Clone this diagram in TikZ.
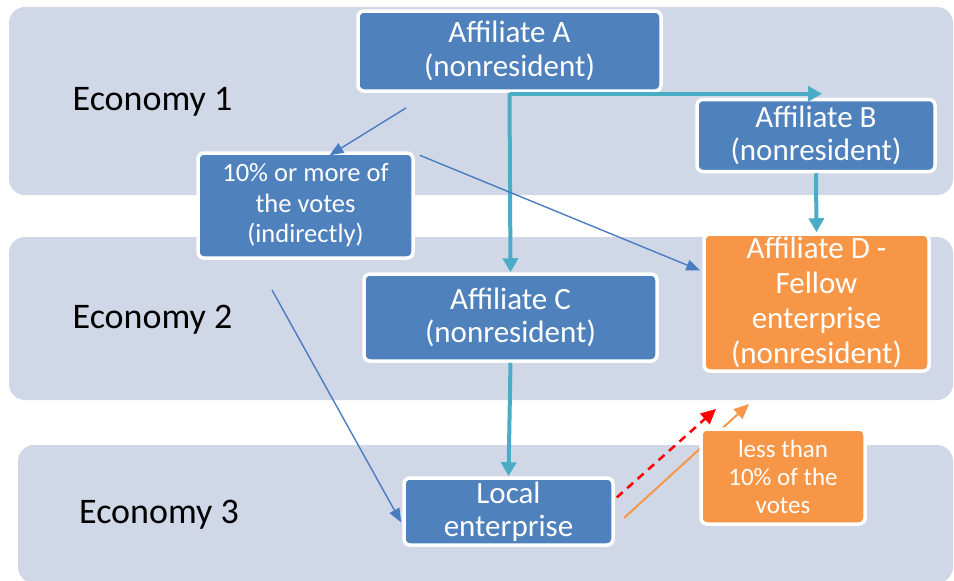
\documentclass[tikz,border=0pt]{standalone}
\usepackage{fontspec}
\setmainfont{Carlito}
\usetikzlibrary{arrows.meta}
\definecolor{bandc}{HTML}{D0D8E8}
\definecolor{boxblue}{HTML}{4F81BD}
\definecolor{boxorange}{HTML}{F79646}
\definecolor{tealc}{HTML}{4BACC6}
\definecolor{thinblue}{HTML}{4A7CC0}
\tikzset{
  band/.style={fill=bandc, rounded corners=16pt},
  econ/.style={text=black, font=\fontsize{36}{40}\selectfont},
  bbox/.style={draw=white, line width=3.5pt, fill=boxblue, rounded corners=6pt,
    text=white, align=center, inner sep=0pt, font=\fontsize{31}{33.5}\selectfont},
  obox/.style={bbox, fill=boxorange},
  tealar/.style={draw=tealc, line width=4pt, -{Triangle[length=14pt,width=15pt]}},
  thinar/.style={draw=thinblue, line width=1.4pt, -{Triangle[length=14pt,width=11pt]}},
  redar/.style={draw=red, line width=2.5pt, dash pattern=on 8pt off 6pt, -{Triangle[length=15pt,width=14pt]}},
  orar/.style={draw=boxorange, line width=2pt, -{Triangle[length=15pt,width=13pt]}}
}
\begin{document}
\begin{tikzpicture}[x=1pt,y=-1pt]
\useasboundingbox (0,0) rectangle (954,581);
% economy bands
\fill[band] (9,7) rectangle (953,195);
\fill[band] (9,237) rectangle (953,400);
\fill[band] (18,445) rectangle (953,583);
\node[econ] (e1) at (152.5,102) {Economy 1};
\node[econ] (e2) at (152.5,320) {Economy 2};
\node[econ] (e3) at (159,515) {Economy 3};
% boxes
\node[bbox, minimum width=303pt, minimum height=80pt] (A) at (509.5,51) {Affiliate A\\(nonresident)};
\node[bbox, minimum width=238pt, minimum height=72pt] (B) at (816,135.5) {Affiliate B\\(nonresident)};
\node[bbox, minimum width=215pt, minimum height=105pt, font=\fontsize{26.5}{30.5}\selectfont] (ten) at (305.5,205.5) {10\% or more of\\the votes\\(indirectly)};
\node[bbox, minimum width=293pt, minimum height=87pt] (C) at (510.5,317.5) {Affiliate C\\(nonresident)};
\node[obox, minimum width=225pt, minimum height=137pt, font=\fontsize{31}{34.8}\selectfont] (D) at (816.5,302.5) {Affiliate D -\\Fellow\\enterprise\\(nonresident)};
\node[bbox, minimum width=209pt, minimum height=67pt] (L) at (508.5,511.5) {Local\\enterprise};
% connectors
\draw[tealar] (A.south) -- (C.north);
\draw[tealar] (A.south) |- ([xshift=6pt,yshift=4pt]B.north);
\draw[tealar] (B.south) -- (D.north);
\draw[tealar] (C.south) -- (L.north);
\coordinate (s1) at (406,108);
\draw[thinar] (s1) -- ([xshift=24pt,yshift=-4pt]ten.north);
\draw[thinar] ([xshift=5pt,yshift=-4pt]ten.north east) -- ([yshift=32pt,xshift=-2pt]D.west);
\coordinate (s2) at (272,290);
\draw[thinar] (s2) -- ([yshift=-11pt,xshift=-1pt]L.west);
\coordinate (r1) at (716,409);
\draw[redar] ([yshift=14pt,xshift=2pt]L.east) -- (r1);
\coordinate (o0) at (624,518);
\coordinate (o1) at (749,404);
\draw[orar] (o0) -- (o1);
\node[obox, minimum width=164pt, minimum height=95pt, font=\fontsize{25}{28}\selectfont] (less) at (783,476.5) {less than\\10\% of the\\votes};
\end{tikzpicture}
\end{document}
